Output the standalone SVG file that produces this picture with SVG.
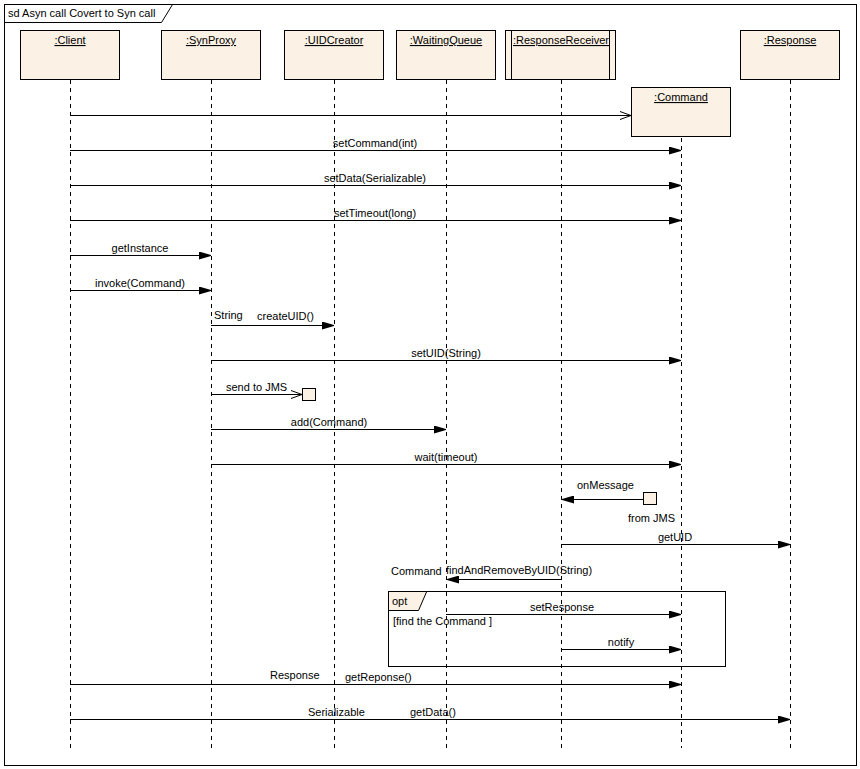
<svg xmlns="http://www.w3.org/2000/svg" width="860" height="769" viewBox="0 0 860 769">
<defs>
<style>
text{font-family:"Liberation Sans",Arial,sans-serif;font-size:11px;fill:#000}
.box{fill:#FBF1E4;stroke:#000;stroke-width:1}
.life{stroke:#000;stroke-width:1;stroke-dasharray:4,4;fill:none}
.msg{stroke:#000;stroke-width:1;fill:none}
.m{text-anchor:middle}
.u{text-decoration:underline;text-anchor:middle}
</style>
<marker id="fa" viewBox="0 0 12 8" refX="12" refY="4" markerWidth="12" markerHeight="8" markerUnits="userSpaceOnUse" orient="auto">
<path d="M0,0 L12,3.5 L12,4.5 L0,8 Z" fill="#000"/>
</marker>
<marker id="oa" viewBox="0 0 12 10" refX="11" refY="5" markerWidth="12" markerHeight="10" markerUnits="userSpaceOnUse" orient="auto">
<path d="M0,1 L11,5 L0,9" fill="none" stroke="#000" stroke-width="1"/>
</marker>
</defs>
<rect width="860" height="769" fill="#fff"/>
<g id="frame">
<rect x="4.5" y="4.5" width="852" height="761" fill="none" stroke="#000"/>
<path d="M4.5,22.5 H161.5 L172.5,4.5" fill="none" stroke="#000"/>
<text x="8" y="17">sd Asyn call Covert to Syn call</text>
</g>
<g id="lifelines">
<line class="life" x1="70.5" y1="80" x2="70.5" y2="748"/>
<line class="life" x1="211.5" y1="80" x2="211.5" y2="748"/>
<line class="life" x1="334.5" y1="80" x2="334.5" y2="748"/>
<line class="life" x1="446.5" y1="80" x2="446.5" y2="748"/>
<line class="life" x1="561.5" y1="80" x2="561.5" y2="748"/>
<line class="life" x1="681.5" y1="138" x2="681.5" y2="748"/>
<line class="life" x1="790.5" y1="80" x2="790.5" y2="748"/>
</g>
<g id="client"><rect class="box" x="20.5" y="30.5" width="99" height="49"/><text class="u" x="70" y="44">:Client</text></g>
<g id="synproxy"><rect class="box" x="161.5" y="30.5" width="99" height="49"/><text class="u" x="211" y="44">:SynProxy</text></g>
<g id="uidcreator"><rect class="box" x="284.5" y="30.5" width="99" height="49"/><text class="u" x="334" y="44">:UIDCreator</text></g>
<g id="waitingqueue"><rect class="box" x="396.5" y="30.5" width="99" height="49"/><text class="u" x="446" y="44">:WaitingQueue</text></g>
<g id="responsereceiver"><rect class="box" x="505.5" y="30.5" width="110" height="49"/><line x1="511.5" y1="30.5" x2="511.5" y2="79.5" stroke="#000"/><line x1="609.5" y1="30.5" x2="609.5" y2="79.5" stroke="#000"/><text class="u" x="561" y="44">:ResponseReceiver</text></g>
<g id="response"><rect class="box" x="740.5" y="30.5" width="99" height="49"/><text class="u" x="790" y="44">:Response</text></g>
<g id="command"><rect class="box" x="631.5" y="87.5" width="99" height="49"/><text class="u" x="681" y="101">:Command</text></g>
<g id="jms-send"><rect class="box" x="302.5" y="388.5" width="13" height="12"/></g>
<g id="jms-from"><rect class="box" x="643.5" y="492.5" width="13" height="12"/></g>
<g id="opt">
<rect x="388.5" y="591.5" width="337" height="75" fill="none" stroke="#000"/>
<path d="M388.5,591.5 H426.5 V592 L418.5,610.5 H388.5 Z" fill="#FBF1E4" stroke="#000"/>
<text x="392" y="605">opt</text>
<text x="393" y="625">[find the Command ]</text>
</g>
<g id="connectors">
<line class="msg" x1="70" y1="115.5" x2="631" y2="115.5" marker-end="url(#oa)"/>
<line class="msg" x1="70" y1="150.5" x2="681" y2="150.5" marker-end="url(#fa)"/>
<line class="msg" x1="70" y1="185.5" x2="681" y2="185.5" marker-end="url(#fa)"/>
<line class="msg" x1="70" y1="220.5" x2="681" y2="220.5" marker-end="url(#fa)"/>
<line class="msg" x1="70" y1="255.5" x2="211" y2="255.5" marker-end="url(#fa)"/>
<line class="msg" x1="70" y1="290.5" x2="211" y2="290.5" marker-end="url(#fa)"/>
<line class="msg" x1="211" y1="325.5" x2="334" y2="325.5" marker-end="url(#fa)"/>
<line class="msg" x1="211" y1="360.5" x2="681" y2="360.5" marker-end="url(#fa)"/>
<line class="msg" x1="211" y1="394.5" x2="302" y2="394.5" marker-end="url(#oa)"/>
<line class="msg" x1="211" y1="429.5" x2="446" y2="429.5" marker-end="url(#fa)"/>
<line class="msg" x1="211" y1="464.5" x2="681" y2="464.5" marker-end="url(#fa)"/>
<line class="msg" x1="643" y1="499.5" x2="562" y2="499.5" marker-end="url(#fa)"/>
<line class="msg" x1="561" y1="544.5" x2="790" y2="544.5" marker-end="url(#fa)"/>
<line class="msg" x1="561" y1="579.5" x2="447" y2="579.5" marker-end="url(#fa)"/>
<line class="msg" x1="446" y1="614.5" x2="681" y2="614.5" marker-end="url(#fa)"/>
<line class="msg" x1="561" y1="649.5" x2="681" y2="649.5" marker-end="url(#fa)"/>
<line class="msg" x1="70" y1="684.5" x2="681" y2="684.5" marker-end="url(#fa)"/>
<line class="msg" x1="70" y1="719.5" x2="790" y2="719.5" marker-end="url(#fa)"/>
</g>
<g id="labels">
<text class="m" x="375" y="147">setCommand(int)</text>
<text class="m" x="375" y="182">setData(Serializable)</text>
<text class="m" x="375" y="217">setTimeout(long)</text>
<text class="m" x="140" y="252">getInstance</text>
<text class="m" x="140" y="287">invoke(Command)</text>
<text x="214" y="319">String</text>
<text x="257" y="320">createUID()</text>
<text class="m" x="446" y="357">setUID(String)</text>
<text x="226" y="391">send to JMS</text>
<text class="m" x="329" y="426">add(Command)</text>
<text class="m" x="446" y="461">wait(timeout)</text>
<text x="577" y="489">onMessage</text>
<text x="628" y="522">from JMS</text>
<text class="m" x="675" y="541">getUID</text>
<text x="391" y="575">Command</text>
<text x="446" y="574">findAndRemoveByUID(String)</text>
<text class="m" x="562" y="611">setResponse</text>
<text class="m" x="621" y="646">notify</text>
<text x="270" y="679">Response</text>
<text x="345" y="681">getReponse()</text>
<text x="308" y="716">Serializable</text>
<text x="410" y="716">getData()</text>
</g>
</svg>
